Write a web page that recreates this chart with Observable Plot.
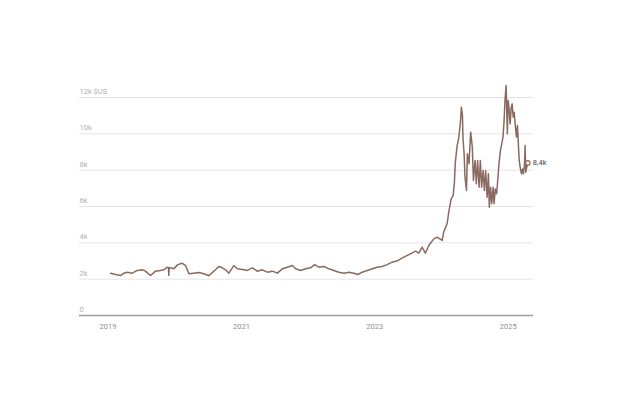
<!DOCTYPE html>
<html>
<head>
<meta charset="utf-8">
<script src="https://cdn.jsdelivr.net/npm/d3@7"></script>
<script src="https://cdn.jsdelivr.net/npm/@observablehq/plot@0.6"></script>
<style>
  html, body { margin: 0; padding: 0; background: #fff; }
  #chart { width: 624px; height: 416px; }
</style>
</head>
<body>
<div id="chart"></div>
<script>
const dates = [
  "2019-01-15","2019-02-12","2019-03-11","2019-03-29","2019-04-16","2019-05-14","2019-06-10","2019-07-07","2019-07-25","2019-08-22",
  "2019-09-18","2019-10-15","2019-11-02","2019-11-21","2019-11-28","2019-11-30","2019-12-02","2019-12-09","2019-12-27",
  "2020-01-18","2020-02-11","2020-03-01","2020-03-19","2020-04-15","2020-05-13","2020-06-09","2020-07-06","2020-08-03","2020-08-30",
  "2020-09-18","2020-10-06","2020-10-24","2020-11-20","2020-12-09",
  "2021-01-15","2021-02-02","2021-03-02","2021-03-28","2021-04-25","2021-05-23","2021-06-19","2021-07-16","2021-08-13","2021-09-09",
  "2021-10-07","2021-10-25","2021-11-21","2021-12-18",
  "2022-01-14","2022-02-05","2022-03-01","2022-03-28","2022-04-25","2022-05-22","2022-06-18","2022-07-16","2022-08-12","2022-09-08",
  "2022-09-30","2022-10-24","2022-11-21","2022-12-18",
  "2023-01-14","2023-02-10","2023-03-10","2023-04-06","2023-05-04","2023-06-09","2023-07-15","2023-08-12","2023-08-30","2023-09-17",
  "2023-10-05","2023-10-24","2023-11-20","2023-12-08",
  "2024-01-05","2024-01-13","2024-02-01","2024-02-10","2024-02-23","2024-03-05","2024-03-12","2024-03-17","2024-03-27","2024-04-04",
  "2024-04-10","2024-04-14","2024-04-19","2024-04-25","2024-04-28","2024-05-04","2024-05-09","2024-05-17","2024-05-22","2024-05-31",
  "2024-06-09","2024-06-18","2024-06-24","2024-07-03","2024-07-10","2024-07-17","2024-07-25","2024-08-01","2024-08-08","2024-08-16",
  "2024-08-23","2024-08-30","2024-09-07","2024-09-14","2024-09-19","2024-09-26","2024-10-02","2024-10-10","2024-10-15","2024-10-22",
  "2024-10-29","2024-11-04","2024-11-11","2024-11-19","2024-11-26","2024-12-03","2024-12-09","2024-12-14","2024-12-20","2024-12-23",
  "2024-12-27","2024-12-31","2025-01-06","2025-01-11","2025-01-17","2025-01-22","2025-01-28","2025-02-02","2025-02-09","2025-02-15",
  "2025-02-20","2025-02-26","2025-03-02","2025-03-07","2025-03-14","2025-03-20","2025-03-25","2025-03-31","2025-04-03","2025-04-07",
  "2025-04-12","2025-04-18"
];
const prices = [
  2330,2255,2200,2330,2385,2330,2480,2515,2440,2200,
  2440,2480,2515,2660,2640,2200,2630,2625,2570,
  2800,2880,2750,2295,2330,2365,2295,2185,2440,2700,
  2625,2515,2330,2750,2570,
  2515,2480,2625,2440,2515,2385,2440,2330,2570,2660,
  2750,2570,2480,2570,
  2625,2800,2660,2700,2570,2480,2385,2330,2385,2330,
  2255,2385,2480,2570,
  2660,2700,2800,2935,3010,3210,3395,3540,3430,3760,
  3430,3850,4220,4310,
  4130,4590,5050,5690,6420,6600,7340,8440,9360,9730,
  10280,10640,11470,11010,9730,8900,7610,6880,8900,8350,
  10090,9260,7430,8530,7250,8530,7060,8530,7060,7980,
  6880,7980,6510,7800,5960,7060,6150,7060,6150,6970,
  6700,7430,8350,9080,9450,9820,10740,11840,12660,11470,
  10000,11840,11290,10550,11470,11650,10920,11190,10370,9820,
  10460,9260,8530,8160,7800,8070,7800,8350,9360,7890,
  8160,8400
];
const yTicks = [0, 2000, 4000, 6000, 8000, 10000, 12000];
const yTickLabels = ["0", "2k", "4k", "6k", "8k", "10k", "12k $US"];
const xTickYears = ["2019", "2021", "2023", "2025"];
const xDomain = ["2018-07-29", "2025-05-19"];
const endLabel = "8,4k";

const parse = d3.utcParse("%Y-%m-%d");
const data = dates.map((d, i) => ({date: parse(d), price: prices[i]}));
const last = data[data.length - 1];
const lineColor = "#8a6a60";

const chart = Plot.plot({
  width: 624,
  height: 416,
  marginLeft: 79,
  marginRight: 91,
  marginTop: 97,
  marginBottom: 101,
  style: {fontFamily: "Roboto, sans-serif", fontSize: "7.5px", background: "white"},
  x: {type: "utc", domain: xDomain.map(parse)},
  y: {domain: [0, 12000]},
  marks: [
    Plot.gridY(yTicks.slice(1), {stroke: "#e4e4e4", strokeOpacity: 1, strokeWidth: 1}),
    Plot.ruleY([0], {stroke: "#9e9e9e", strokeWidth: 1.5}),
    Plot.text(yTicks, {
      y: d => d, frameAnchor: "left", textAnchor: "start", dy: -6,
      text: (d, i) => yTickLabels[i], fill: "#b0b0b0"
    }),
    Plot.axisX({
      ticks: xTickYears.map(y => parse(y + "-01-01")),
      tickFormat: d3.utcFormat("%Y"), tickSize: 0, tickPadding: 8,
      fill: "#8f8f8f", fontSize: 7.5
    }),
    Plot.axisY({ticks: [], label: null}),
    Plot.line(data, {x: "date", y: "price", stroke: lineColor, strokeWidth: 1.5, strokeLinejoin: "round"}),
    Plot.dot([last], {x: "date", y: "price", r: 2.2, fill: "white", stroke: lineColor, strokeWidth: 1.2}),
    Plot.text([last], {x: "date", y: "price", text: () => endLabel, dx: 5, textAnchor: "start", fill: "#444", fontSize: 7.5})
  ]
});
document.getElementById("chart").appendChild(chart);
</script>
</body>
</html>
